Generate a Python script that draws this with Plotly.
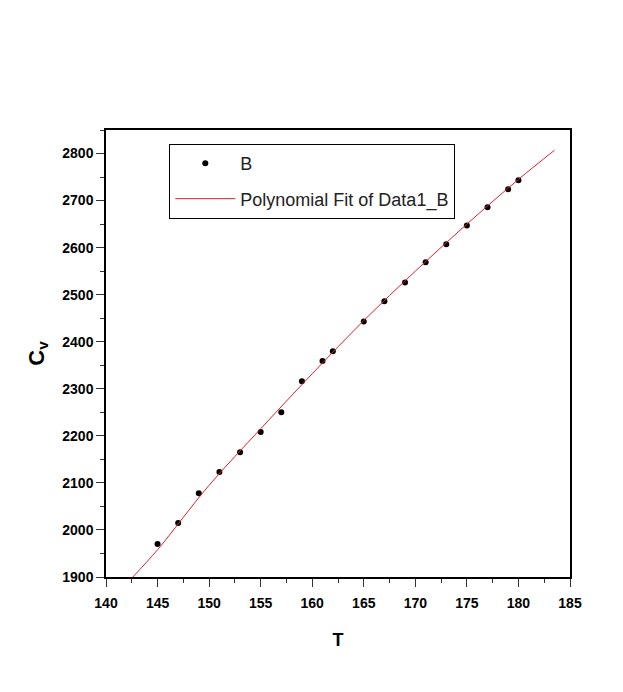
import plotly.graph_objects as go

T = [145, 147, 149, 151, 153, 155, 157, 159, 161, 162, 165, 167, 169, 171, 173, 175, 177, 179, 180]
B = [1970, 2015, 2078, 2123, 2165, 2208, 2250, 2316, 2359, 2380, 2443, 2486, 2526, 2569, 2607, 2647, 2686, 2724, 2743]

fit_T = [142.6, 145, 150, 155, 160, 165, 170, 175, 180, 183.5]
fit_B = [1900, 1958, 2095, 2215, 2332, 2445, 2550, 2650, 2745, 2807]

x_ticks = [140, 145, 150, 155, 160, 165, 170, 175, 180, 185]
y_ticks = [1900, 2000, 2100, 2200, 2300, 2400, 2500, 2600, 2700, 2800]

FONT = "Arial, Liberation Sans, sans-serif"

fig = go.Figure()
fig.add_trace(go.Scatter(x=T, y=B, mode="markers", name="B", legendgroup="a",
                         marker=dict(color="black", size=6)))
fig.add_trace(go.Scatter(x=fit_T, y=fit_B, mode="lines", name="Polynomial Fit of Data1_B",
                         legendgroup="b",
                         line=dict(color="#e0202a", width=1, shape="spline")))

axis_common = dict(showline=True, linecolor="black", linewidth=1.5, mirror=True,
                   ticks="outside", ticklen=8, tickwidth=1.2, tickcolor="#333333",
                   showgrid=False, zeroline=False,
                   tickfont=dict(family=FONT, size=14, color="black", weight="bold"),
                   minor=dict(ticks="outside", ticklen=4, tickcolor="#333333", tickwidth=1))

fig.update_xaxes(range=[140, 185], tickvals=x_ticks, **axis_common, ticklabelstandoff=4,
                 title=dict(text="<b>T</b>", font=dict(family=FONT, size=18, color="black"),
                            standoff=24))
fig.update_yaxes(range=[1900, 2850], tickvals=y_ticks, **axis_common,
                 title=dict(text="<b>C<sub>v</sub></b>", font=dict(family=FONT, size=22, color="black"),
                            standoff=12))
fig.update_xaxes(minor=dict(dtick=2.5))
fig.update_yaxes(minor=dict(dtick=50))

fig.update_layout(
    width=623, height=692,
    margin=dict(l=98, r=61, t=122, b=123),
    plot_bgcolor="white", paper_bgcolor="white",
    legend=dict(x=0.136, y=0.969, xanchor="left", yanchor="top",
                bgcolor="white", bordercolor="black", borderwidth=1.2,
                font=dict(family=FONT, size=18, color="#222222"),
                itemwidth=60, tracegroupgap=9),
)

fig.write_html("out.html")
